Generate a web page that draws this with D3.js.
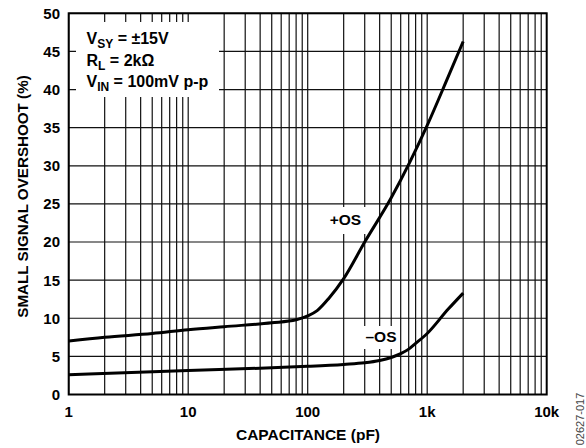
<!DOCTYPE html>
<html>
<head>
<meta charset="utf-8">
<script src="https://cdn.jsdelivr.net/npm/d3@7"></script>
<style>
    body { margin: 0; background: #fff; }
    text { font-family: "Liberation Sans", Arial, sans-serif; }
</style>
</head>
<body>
<div id="main"></div>
<script>
/// data ///
var capacitance = [1, 2, 5, 10, 20, 50, 80, 100, 120, 150, 200, 300, 500, 1000, 1500, 2000];
var plusOS = [7.0, 7.5, 8.0, 8.5, 8.9, 9.4, 9.8, 10.3, 11.0, 12.6, 15.2, 20.0, 25.8, 35.3, 41.7, 46.3];

var capacitanceNeg = [1, 10, 50, 100, 200, 300, 400, 500, 600, 700, 800, 1000, 1500, 2000];
var minusOS = [2.6, 3.15, 3.5, 3.7, 3.95, 4.15, 4.45, 4.85, 5.35, 5.95, 6.7, 8.0, 11.2, 13.3];

var xTicks = [1, 10, 100, 1000, 10000];
var xTickLabels = ['1', '10', '100', '1k', '10k'];
var yTicks = [0, 5, 10, 15, 20, 25, 30, 35, 40, 45, 50];

const w = 586;
const h = 448;

const svg = d3.select('#main')
            .append('svg')
            .attr('width', w)
            .attr('height', h);

// scales, log for capacitance
const x = d3.scaleLog()
            .domain([1, 10000])
            .range([68.7, 546.7]);
const y = d3.scaleLinear()
            .domain([0, 50])
            .range([394.5, 13.3]);

// minor grid values 1..9 in every decade
let gridX = [];
[1, 10, 100, 1000].forEach(function(dec) {
    for (let k = 1; k <= 9; k++) gridX.push(dec * k);
});

/// grid ///
svg.append('g')
    .selectAll('line')
    .data(gridX)
    .enter()
    .append('line')
    .attr('x1', d => x(d))
    .attr('x2', d => x(d))
    .attr('y1', y(0))
    .attr('y2', y(50))
    .attr('stroke', '#111')
    .attr('stroke-width', 1.2);

svg.append('g')
    .selectAll('line')
    .data(yTicks)
    .enter()
    .append('line')
    .attr('x1', x(1))
    .attr('x2', x(10000))
    .attr('y1', d => y(d))
    .attr('y2', d => y(d))
    .attr('stroke', '#111')
    .attr('stroke-width', 1.2);

// white boxes that hide the grid behind the notes
svg.append('rect')
    .attr('x', 76).attr('y', 22)
    .attr('width', 143).attr('height', 75)
    .attr('fill', '#fff');
svg.append('rect')
    .attr('x', 326).attr('y', 207)
    .attr('width', 40).attr('height', 27)
    .attr('fill', '#fff');
svg.append('rect')
    .attr('x', 362).attr('y', 326)
    .attr('width', 38).attr('height', 23)
    .attr('fill', '#fff');

/// curves ///
const line = d3.line()
                .x(d => x(d[0]))
                .y(d => y(d[1]))
                .curve(d3.curveMonotoneX);

svg.append('path')
    .datum(d3.zip(capacitance, plusOS))
    .attr('d', line)
    .attr('fill', 'none')
    .attr('stroke', '#000')
    .attr('stroke-width', 3);

svg.append('path')
    .datum(d3.zip(capacitanceNeg, minusOS))
    .attr('d', line)
    .attr('fill', 'none')
    .attr('stroke', '#000')
    .attr('stroke-width', 3);

// frame
svg.append('rect')
    .attr('x', x(1))
    .attr('y', y(50))
    .attr('width', x(10000) - x(1))
    .attr('height', y(0) - y(50))
    .attr('fill', 'none')
    .attr('stroke', '#000')
    .attr('stroke-width', 2);

/// tick labels ///
svg.append('g')
    .selectAll('text')
    .data(yTicks)
    .enter()
    .append('text')
    .attr('x', 60)
    .attr('y', d => y(d))
    .attr('dy', '0.36em')
    .attr('text-anchor', 'end')
    .style('font-size', '15px')
    .style('font-weight', 'bold')
    .text(d => d);

svg.append('g')
    .selectAll('text')
    .data(xTicks)
    .enter()
    .append('text')
    .attr('x', d => x(d))
    .attr('y', 416.5)
    .attr('text-anchor', 'middle')
    .style('font-size', '15px')
    .style('font-weight', 'bold')
    .text((d, i) => xTickLabels[i]);

/// axis titles ///
svg.append('text')
    .attr('x', 308)
    .attr('y', 440)
    .attr('text-anchor', 'middle')
    .style('font-size', '15.5px')
    .style('font-weight', 'bold')
    .text('CAPACITANCE (pF)');

svg.append('text')
    .attr('transform', 'translate(28,196.5) rotate(-90)')
    .attr('text-anchor', 'middle')
    .style('font-size', '15.2px')
    .style('font-weight', 'bold')
    .text('SMALL SIGNAL OVERSHOOT (%)');

svg.append('text')
    .attr('transform', 'translate(584,419) rotate(-90)')
    .attr('text-anchor', 'middle')
    .style('font-size', '11px')
    .style('fill', '#444')
    .text('02627-017');

/// notes ///
var notes = [['V', 'SY', ' = \u00b115V'], ['R', 'L', ' = 2k\u03a9'], ['V', 'IN', ' = 100mV p-p']];

notes.forEach(function(n, i) {
    let t = svg.append('text')
                .attr('x', 86.5)
                .attr('y', 44.3 + i * 21.2)
                .style('font-size', '16px')
                .style('font-weight', 'bold');
    t.append('tspan').text(n[0]);
    t.append('tspan').attr('dy', 4).style('font-size', '12px').text(n[1]);
    t.append('tspan').attr('dy', -4).text(n[2]);
});

svg.append('text')
    .attr('x', 345.5)
    .attr('y', 225)
    .attr('text-anchor', 'middle')
    .style('font-size', '15.5px')
    .style('font-weight', 'bold')
    .text('+OS');

svg.append('text')
    .attr('x', 381)
    .attr('y', 341.7)
    .attr('text-anchor', 'middle')
    .style('font-size', '15.5px')
    .style('font-weight', 'bold')
    .text('\u2013OS');
</script>
</body>
</html>
